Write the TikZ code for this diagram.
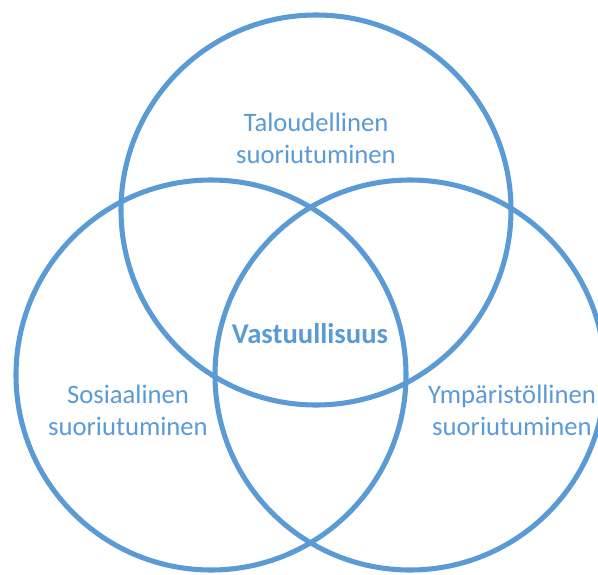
\documentclass[tikz,border=0pt]{standalone}
\usepackage{fontspec}
\setmainfont{Carlito}
\usepackage{xcolor}
\usetikzlibrary{positioning}

\definecolor{ringblue}{HTML}{5B9BD5}

\begin{document}
\begin{tikzpicture}[
    x=0.75pt, y=-0.75pt,
    ring/.style={circle, draw=ringblue, line width=3.8pt, inner sep=0pt, minimum size=292.5pt},
    areatext/.style={text=ringblue, align=center, font=\fontsize{20}{24}\selectfont},
    coretext/.style={text=ringblue, font=\fontsize{21.5}{24}\selectfont\bfseries}
]
\useasboundingbox (0,0) rectangle (598,574);

% Three overlapping rings
\node[ring] (talous) at (316,210) {};
\node[ring] (sosiaal) at (211,375) {};
\node[ring] (ymparisto) at (410,375) {};

% Texts
\node[areatext] (taltext) at (316,138) {Taloudellinen\\suoriutuminen};
\node[areatext] (sostext) at (128,410) {Sosiaalinen\\suoriutuminen};
\node[areatext] (ymptext) at (512,410) {Ympäristöllinen\\suoriutuminen};
\node[coretext] (vastuu) at (310,334) {Vastuullisuus};

\end{tikzpicture}
\end{document}
